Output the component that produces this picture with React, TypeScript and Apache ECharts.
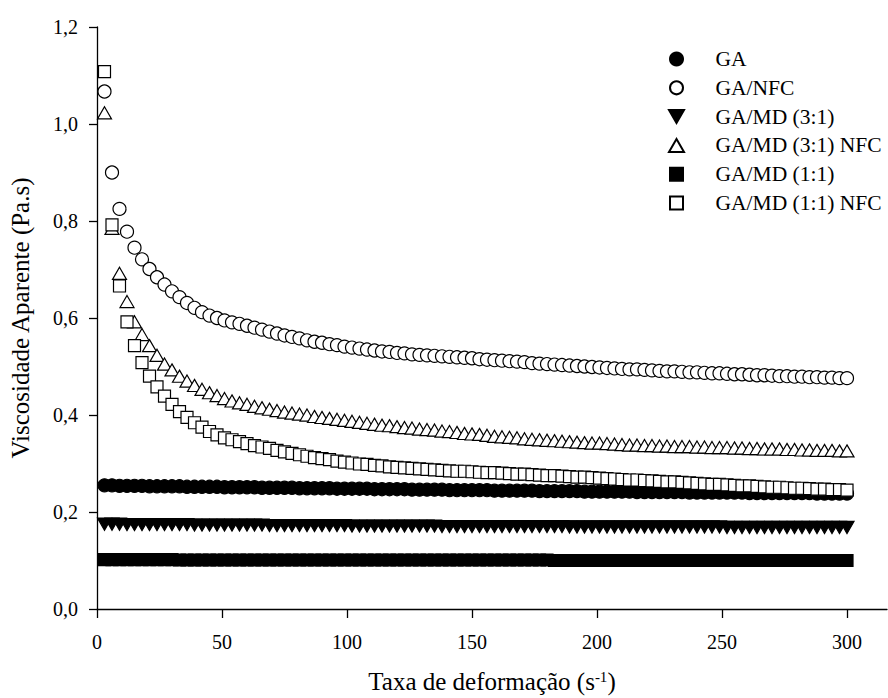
import { useEffect, useRef } from 'react';
import * as echarts from 'echarts';

const shearRate = [
  3, 6, 9, 12, 15, 18, 21, 24, 27, 30,
  33, 36, 39, 42, 45, 48, 51, 54, 57, 60,
  63, 66, 69, 72, 75, 78, 81, 84, 87, 90,
  93, 96, 99, 102, 105, 108, 111, 114, 117, 120,
  123, 126, 129, 132, 135, 138, 141, 144, 147, 150,
  153, 156, 159, 162, 165, 168, 171, 174, 177, 180,
  183, 186, 189, 192, 195, 198, 201, 204, 207, 210,
  213, 216, 219, 222, 225, 228, 231, 234, 237, 240,
  243, 246, 249, 252, 255, 258, 261, 264, 267, 270,
  273, 276, 279, 282, 285, 288, 291, 294, 297, 300,
];

const gaValues = [
  0.255, 0.255, 0.254, 0.254, 0.254, 0.254, 0.253, 0.253, 0.253, 0.253,
  0.253, 0.252, 0.252, 0.252, 0.252, 0.252, 0.251, 0.251, 0.251, 0.251,
  0.251, 0.250, 0.250, 0.250, 0.250, 0.250, 0.249, 0.249, 0.249, 0.249,
  0.249, 0.248, 0.248, 0.248, 0.248, 0.248, 0.247, 0.247, 0.247, 0.247,
  0.247, 0.246, 0.246, 0.246, 0.246, 0.246, 0.245, 0.245, 0.245, 0.245,
  0.245, 0.245, 0.244, 0.244, 0.244, 0.244, 0.244, 0.244, 0.243, 0.243,
  0.243, 0.243, 0.243, 0.243, 0.242, 0.242, 0.242, 0.242, 0.242, 0.242,
  0.242, 0.241, 0.241, 0.241, 0.241, 0.241, 0.241, 0.241, 0.240, 0.240,
  0.240, 0.240, 0.240, 0.240, 0.240, 0.240, 0.239, 0.239, 0.239, 0.239,
  0.239, 0.239, 0.239, 0.239, 0.239, 0.238, 0.238, 0.238, 0.238, 0.238,
];

const gaNfcValues = [
  1.067, 0.900, 0.825, 0.778, 0.745, 0.721, 0.701, 0.684, 0.669, 0.655,
  0.643, 0.631, 0.621, 0.612, 0.605, 0.600, 0.595, 0.591, 0.588, 0.584,
  0.580, 0.576, 0.572, 0.568, 0.564, 0.561, 0.558, 0.554, 0.551, 0.549,
  0.546, 0.544, 0.541, 0.539, 0.537, 0.535, 0.533, 0.531, 0.530, 0.528,
  0.527, 0.525, 0.524, 0.523, 0.522, 0.521, 0.520, 0.519, 0.518, 0.517,
  0.515, 0.514, 0.513, 0.512, 0.511, 0.510, 0.509, 0.507, 0.506, 0.505,
  0.504, 0.503, 0.502, 0.501, 0.500, 0.499, 0.498, 0.497, 0.496, 0.495,
  0.494, 0.494, 0.493, 0.492, 0.491, 0.490, 0.490, 0.489, 0.488, 0.488,
  0.487, 0.486, 0.486, 0.485, 0.484, 0.484, 0.483, 0.482, 0.482, 0.481,
  0.480, 0.480, 0.479, 0.479, 0.478, 0.478, 0.477, 0.477, 0.476, 0.476,
];

const gaMd31Values = [
  0.175, 0.175, 0.175, 0.174, 0.174, 0.174, 0.174, 0.174, 0.174, 0.174,
  0.174, 0.174, 0.173, 0.173, 0.173, 0.173, 0.173, 0.173, 0.173, 0.173,
  0.173, 0.173, 0.172, 0.172, 0.172, 0.172, 0.172, 0.172, 0.172, 0.172,
  0.172, 0.172, 0.172, 0.171, 0.171, 0.171, 0.171, 0.171, 0.171, 0.171,
  0.171, 0.171, 0.171, 0.171, 0.171, 0.170, 0.170, 0.170, 0.170, 0.170,
  0.170, 0.170, 0.170, 0.170, 0.170, 0.170, 0.170, 0.170, 0.170, 0.170,
  0.170, 0.170, 0.169, 0.169, 0.169, 0.169, 0.169, 0.169, 0.169, 0.169,
  0.169, 0.169, 0.169, 0.169, 0.169, 0.169, 0.169, 0.169, 0.169, 0.169,
  0.169, 0.169, 0.169, 0.168, 0.168, 0.168, 0.168, 0.168, 0.168, 0.168,
  0.168, 0.168, 0.168, 0.168, 0.168, 0.168, 0.168, 0.168, 0.168, 0.168,
];

const gaMd31NfcValues = [
  1.023, 0.785, 0.692, 0.634, 0.592, 0.566, 0.543, 0.523, 0.505, 0.493,
  0.480, 0.470, 0.461, 0.453, 0.446, 0.440, 0.434, 0.429, 0.425, 0.422,
  0.418, 0.415, 0.412, 0.409, 0.406, 0.404, 0.402, 0.400, 0.397, 0.395,
  0.393, 0.391, 0.389, 0.387, 0.385, 0.383, 0.381, 0.379, 0.378, 0.376,
  0.374, 0.373, 0.371, 0.370, 0.369, 0.367, 0.366, 0.364, 0.362, 0.361,
  0.360, 0.358, 0.356, 0.355, 0.354, 0.353, 0.351, 0.350, 0.349, 0.348,
  0.347, 0.346, 0.345, 0.344, 0.343, 0.342, 0.342, 0.341, 0.340, 0.339,
  0.338, 0.338, 0.337, 0.337, 0.336, 0.336, 0.335, 0.335, 0.335, 0.334,
  0.334, 0.333, 0.333, 0.333, 0.332, 0.332, 0.331, 0.331, 0.330, 0.330,
  0.330, 0.329, 0.329, 0.328, 0.328, 0.327, 0.327, 0.327, 0.326, 0.326,
];

const gaMd11Values = [
  0.102, 0.102, 0.102, 0.102, 0.102, 0.102, 0.102, 0.102, 0.102, 0.102,
  0.101, 0.101, 0.101, 0.101, 0.101, 0.101, 0.101, 0.101, 0.101, 0.101,
  0.101, 0.101, 0.101, 0.101, 0.101, 0.101, 0.101, 0.101, 0.101, 0.101,
  0.101, 0.101, 0.101, 0.101, 0.101, 0.101, 0.101, 0.101, 0.101, 0.101,
  0.101, 0.101, 0.101, 0.101, 0.101, 0.101, 0.101, 0.101, 0.101, 0.101,
  0.101, 0.101, 0.101, 0.101, 0.101, 0.101, 0.101, 0.101, 0.101, 0.101,
  0.100, 0.100, 0.100, 0.100, 0.100, 0.100, 0.100, 0.100, 0.100, 0.100,
  0.100, 0.100, 0.100, 0.100, 0.100, 0.100, 0.100, 0.100, 0.100, 0.100,
  0.100, 0.100, 0.100, 0.100, 0.100, 0.100, 0.100, 0.100, 0.100, 0.100,
  0.100, 0.100, 0.100, 0.100, 0.100, 0.100, 0.100, 0.100, 0.100, 0.100,
];

const gaMd11NfcValues = [
  1.108, 0.792, 0.666, 0.592, 0.543, 0.508, 0.480, 0.458, 0.439, 0.422,
  0.407, 0.395, 0.384, 0.375, 0.366, 0.359, 0.353, 0.349, 0.345, 0.341,
  0.337, 0.334, 0.331, 0.327, 0.324, 0.321, 0.318, 0.315, 0.312, 0.310,
  0.308, 0.305, 0.303, 0.301, 0.299, 0.298, 0.296, 0.295, 0.293, 0.292,
  0.291, 0.290, 0.289, 0.288, 0.287, 0.286, 0.285, 0.284, 0.284, 0.283,
  0.282, 0.281, 0.281, 0.280, 0.279, 0.278, 0.278, 0.277, 0.276, 0.275,
  0.275, 0.274, 0.273, 0.272, 0.272, 0.271, 0.270, 0.269, 0.268, 0.267,
  0.266, 0.266, 0.265, 0.264, 0.263, 0.262, 0.262, 0.261, 0.260, 0.259,
  0.258, 0.257, 0.257, 0.256, 0.255, 0.254, 0.254, 0.253, 0.252, 0.251,
  0.251, 0.250, 0.249, 0.249, 0.248, 0.247, 0.247, 0.246, 0.246, 0.245,
];

const seriesNames = [
  'GA',
  'GA/NFC',
  'GA/MD (3:1)',
  'GA/MD (3:1) NFC',
  'GA/MD (1:1)',
  'GA/MD (1:1) NFC',
];

const xTickValues = [0, 50, 100, 150, 200, 250, 300];
const yTickValues = [0, 0.2, 0.4, 0.6, 0.8, 1.0, 1.2];

const FONT = "'Liberation Serif', 'Times New Roman', serif";
const TRI_UP = 'path://M10,0L20,17.32L0,17.32Z';
const TRI_DOWN = 'path://M0,0L20,0L10,17.32Z';
const SQUARE = 'path://M0,0L10,0L10,10L0,10Z';

function makeSeries(
  name: string,
  values: number[],
  symbol: string,
  size: number,
  fill: string
) {
  return {
    type: 'scatter',
    name,
    data: shearRate.map((x, i) => [x, values[i]]),
    symbol,
    symbolSize: size,
    symbolKeepAspect: true,
    silent: true,
    itemStyle: {
      color: fill,
      borderColor: '#000',
      borderWidth: 1.2,
      opacity: 1,
    },
    emphasis: { disabled: true },
  };
}

export default function App() {
  const ref = useRef<HTMLDivElement>(null);

  useEffect(() => {
    const chart = echarts.init(ref.current as HTMLDivElement, null, {
      renderer: 'svg',
    });
    chart.setOption({
      animation: false,
      backgroundColor: '#fff',
      textStyle: { fontFamily: FONT },
      grid: {
        left: 97,
        top: 27,
        width: 790,
        height: 582,
        containLabel: false,
        outerBoundsMode: 'none',
      },
      legend: {
        orient: 'vertical',
        left: 663,
        top: 43,
        itemWidth: 68,
        itemHeight: 13,
        itemGap: 6.8,
        selectedMode: false,
        symbolKeepAspect: true,
        textStyle: { fontFamily: FONT, fontSize: 21.5, color: '#000' },
        data: seriesNames,
      },
      xAxis: {
        type: 'value',
        min: 0,
        max: 316,
        name: 'Taxa de deformação (s{sup|-1})',
        nameLocation: 'middle',
        nameGap: 60,
        nameTextStyle: {
          fontFamily: FONT,
          fontSize: 25,
          color: '#000',
          rich: {
            sup: {
              fontFamily: FONT,
              fontSize: 15,
              color: '#000',
              verticalAlign: 'top',
              lineHeight: 15,
            },
          },
        },
        axisLine: { show: true, lineStyle: { color: '#000', width: 1.3 } },
        axisTick: {
          show: true,
          inside: false,
          length: 9,
          lineStyle: { color: '#000', width: 1.3 },
          customValues: xTickValues,
        },
        axisLabel: {
          fontFamily: FONT,
          fontSize: 20,
          color: '#000',
          margin: 23,
          customValues: xTickValues,
          formatter: (v: number) => String(v),
        },
        splitLine: { show: false },
      },
      yAxis: {
        type: 'value',
        min: 0,
        max: 1.2,
        interval: 0.2,
        name: 'Viscosidade Aparente (Pa.s)',
        nameLocation: 'middle',
        nameGap: 64,
        nameTextStyle: { fontFamily: FONT, fontSize: 25, color: '#000' },
        axisLine: { show: true, lineStyle: { color: '#000', width: 1.3 } },
        axisTick: {
          show: true,
          inside: false,
          length: 8,
          lineStyle: { color: '#000', width: 1.3 },
          customValues: yTickValues,
        },
        axisLabel: {
          fontFamily: FONT,
          fontSize: 20,
          color: '#000',
          margin: 19,
          customValues: yTickValues,
          formatter: (v: number) => v.toFixed(1).replace('.', ','),
        },
        splitLine: { show: false },
      },
      series: [
        makeSeries(seriesNames[0], gaValues, 'circle', 13, '#000'),
        makeSeries(seriesNames[1], gaNfcValues, 'circle', 13, '#fff'),
        makeSeries(seriesNames[2], gaMd31Values, TRI_DOWN, 14, '#000'),
        makeSeries(seriesNames[3], gaMd31NfcValues, TRI_UP, 14, '#fff'),
        makeSeries(seriesNames[4], gaMd11Values, SQUARE, 12, '#000'),
        makeSeries(seriesNames[5], gaMd11NfcValues, SQUARE, 12, '#fff'),
      ],
    });
    return () => chart.dispose();
  }, []);

  return (
    <div
      ref={ref}
      style={{ position: 'absolute', left: 0, top: 0, width: 888, height: 698 }}
    />
  );
}
